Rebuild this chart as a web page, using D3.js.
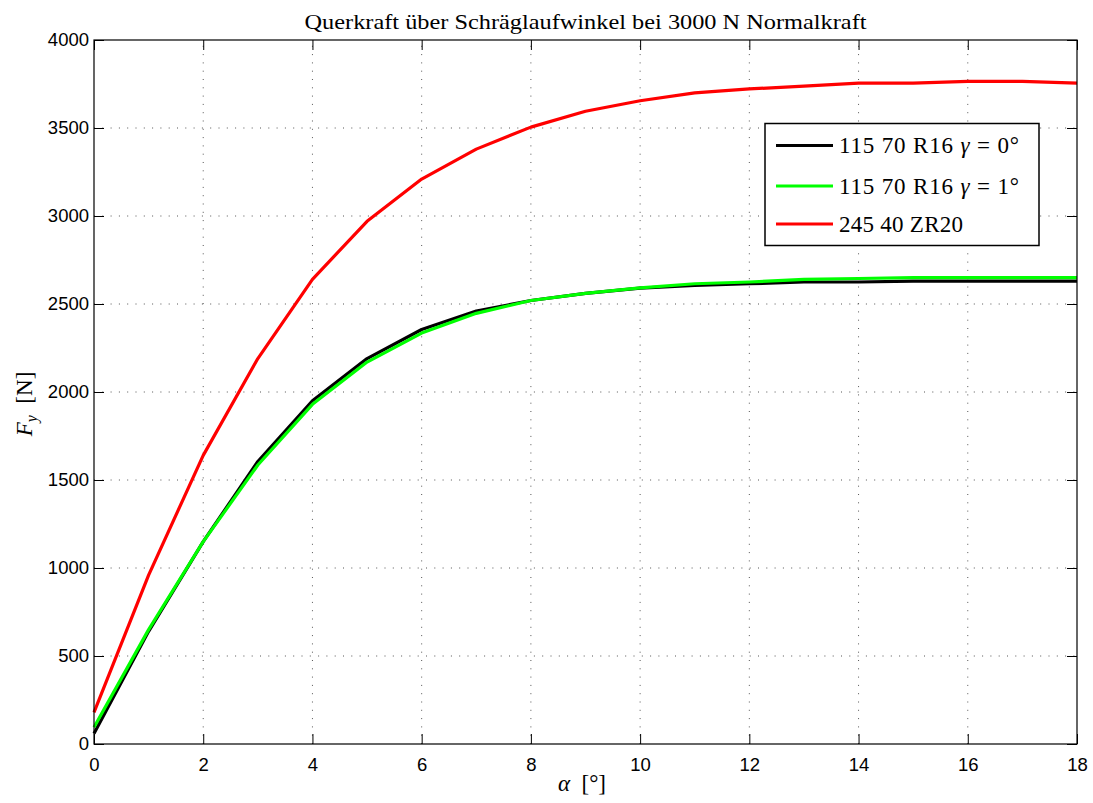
<!DOCTYPE html>
<html>
<head>
<meta charset="utf-8">
<script src="https://cdn.jsdelivr.net/npm/d3@7"></script>
<style>
  html, body { margin: 0; padding: 0; background: #fff; }
  svg { display: block; }
</style>
</head>
<body>
<svg id="chart" width="1093" height="803"></svg>
<script>
// ---- data ----
const alpha = [0,1,2,3,4,5,6,7,8,9,10,11,12,13,14,15,16,17,18];
const fyGamma0 = [60, 640, 1150, 1605, 1950, 2190, 2355, 2460, 2520, 2560, 2590, 2605, 2615, 2625, 2625, 2630, 2630, 2630, 2630];
const fyGamma1 = [95, 650, 1150, 1585, 1930, 2170, 2335, 2447, 2520, 2560, 2592, 2615, 2625, 2640, 2645, 2650, 2650, 2650, 2650];
const fyZR20   = [180, 960, 1640, 2190, 2640, 2970, 3210, 3380, 3505, 3595, 3655, 3700, 3722, 3738, 3755, 3755, 3765, 3765, 3755];
const xTicks = [0,2,4,6,8,10,12,14,16,18];
const yTicks = [0,500,1000,1500,2000,2500,3000,3500,4000];
const seriesNames = ["115 70 R16", "115 70 R16", "245 40 ZR20"];
const seriesColors = ["#000000", "#00ff00", "#ff0000"];
const titleText = "Querkraft über Schräglaufwinkel bei 3000 N Normalkraft";

const svg = d3.select("#chart");
const L = 94, R = 1077, T = 40, B = 744;
const x = d3.scaleLinear().domain([0, 18]).range([L, R]);
const y = d3.scaleLinear().domain([0, 4000]).range([B, T]);

// grid
const grid = svg.append("g");
xTicks.slice(1, -1).forEach(t => {
  grid.append("line").attr("x1", x(t)).attr("x2", x(t)).attr("y1", B).attr("y2", T)
    .attr("stroke", "#555").attr("stroke-width", 1).attr("stroke-dasharray", "1,7.3");
});
yTicks.slice(1, -1).forEach(t => {
  grid.append("line").attr("x1", L).attr("x2", R).attr("y1", y(t)).attr("y2", y(t))
    .attr("stroke", "#555").attr("stroke-width", 1).attr("stroke-dasharray", "1,7.3");
});

// axes with inner ticks
const tickLen = 10;
const fontSans = "'Liberation Sans', Arial, Helvetica, sans-serif";
const xAxisB = d3.axisBottom(x).tickValues(xTicks).tickSize(-tickLen).tickPadding(14).tickFormat(d3.format("d"));
const xAxisT = d3.axisTop(x).tickValues(xTicks).tickSize(-tickLen).tickFormat("");
const yAxisL = d3.axisLeft(y).tickValues(yTicks).tickSize(-tickLen).tickPadding(5).tickFormat(d3.format("d"));
const yAxisR = d3.axisRight(y).tickValues(yTicks).tickSize(-tickLen).tickFormat("");

function styleAxis(g) {
  g.select(".domain").remove();
  g.selectAll(".tick line").attr("stroke", "#000").attr("stroke-width", 1);
  g.selectAll(".tick text").attr("fill", "#000").style("font-family", fontSans).style("font-size", "18.5px");
}
svg.append("g").attr("transform", `translate(0,${B})`).call(xAxisB).call(styleAxis);
svg.append("g").attr("transform", `translate(0,${T})`).call(xAxisT).call(styleAxis);
svg.append("g").attr("transform", `translate(${L},0)`).call(yAxisL).call(styleAxis);
svg.append("g").attr("transform", `translate(${R},0)`).call(yAxisR).call(styleAxis);

// lines
const seriesData = [fyGamma0, fyGamma1, fyZR20];
const line = d3.line().x((d, i) => x(alpha[i])).y(d => y(d));
seriesData.forEach((s, k) => {
  svg.append("path").datum(s).attr("d", line).attr("fill", "none")
    .attr("stroke", seriesColors[k]).attr("stroke-width", 3.2).attr("stroke-linejoin", "round");
});

// box
svg.append("rect").attr("x", L).attr("y", T).attr("width", R - L).attr("height", B - T)
  .attr("fill", "none").attr("stroke", "#000").attr("stroke-width", 1.2);

// title
const fontSerif = "'Liberation Serif', 'Times New Roman', serif";
svg.append("text").attr("x", (L + R) / 2).attr("y", 29).attr("text-anchor", "middle")
  .style("font-family", fontSerif).style("font-size", "22px").attr("fill", "#000")
  .attr("textLength", 562).attr("lengthAdjust", "spacingAndGlyphs")
  .text(titleText);

// x label
const xl = svg.append("text").attr("x", 582).attr("y", 791).attr("text-anchor", "middle")
  .style("font-family", fontSerif).style("font-size", "23px").attr("fill", "#000");
xl.append("tspan").style("font-style", "italic").text("α");
xl.append("tspan").text("\u2002[°]");

// y label
const yl = svg.append("text").attr("transform", "translate(32,404) rotate(-90)").attr("text-anchor", "middle")
  .style("font-family", fontSerif).style("font-size", "23px").attr("fill", "#000");
yl.append("tspan").style("font-style", "italic").text("F");
yl.append("tspan").style("font-style", "italic").style("font-size", "16px").attr("dy", 5).text("y");
yl.append("tspan").attr("dy", -5).text("\u2002[N]");

// legend
const lg = svg.append("g");
lg.append("rect").attr("x", 765).attr("y", 123.5).attr("width", 274).attr("height", 122)
  .attr("fill", "#fff").attr("stroke", "#000").attr("stroke-width", 1.5);
const legendY = [145.5, 186, 224];
const legendGamma = ["0", "1", null];
const legendLen = [180, 180, 124];
seriesNames.forEach((n, k) => {
  lg.append("line").attr("x1", 776).attr("x2", 833).attr("y1", legendY[k]).attr("y2", legendY[k])
    .attr("stroke", seriesColors[k]).attr("stroke-width", 3.2);
  const t = lg.append("text").attr("x", 839).attr("y", legendY[k] + 7.5)
    .style("font-family", fontSerif).style("font-size", "23px").attr("fill", "#000")
    .attr("textLength", legendLen[k]).attr("lengthAdjust", "spacing");
  t.append("tspan").text(n);
  if (legendGamma[k] !== null) {
    t.append("tspan").style("font-style", "italic").text(" γ");
    t.append("tspan").text(" = " + legendGamma[k] + "°");
  }
});
</script>
</body>
</html>
